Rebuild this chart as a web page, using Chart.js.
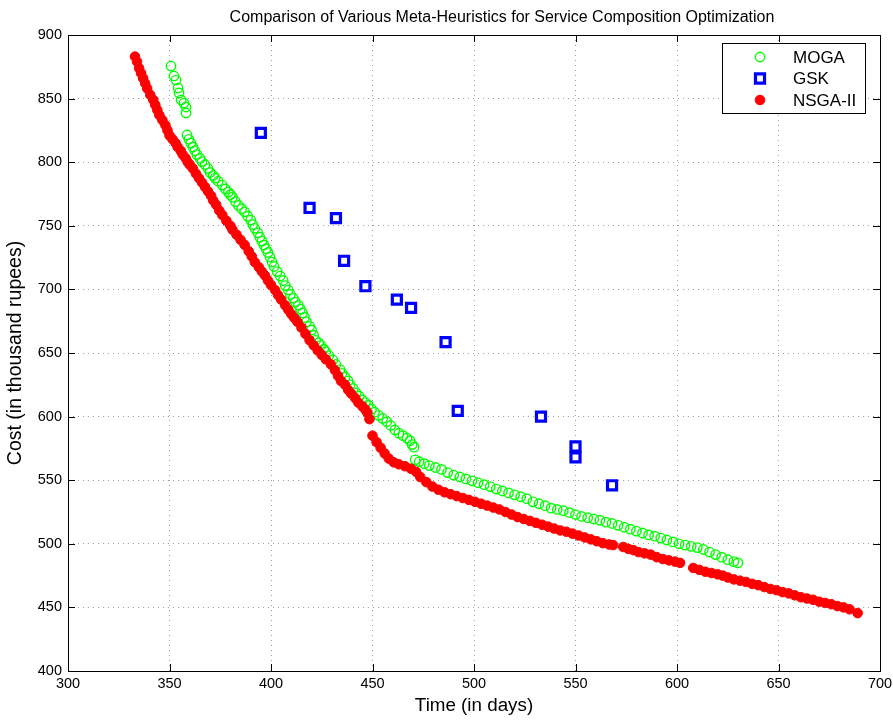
<!DOCTYPE html>
<html>
<head>
<meta charset="utf-8">
<script src="https://cdn.jsdelivr.net/npm/chart.js@4/dist/chart.umd.min.js"></script>
<style>
  html, body { margin: 0; padding: 0; background: #fff; }
  canvas { display: block; }
</style>
</head>
<body>
<canvas id="c" width="893" height="720"></canvas>
<script>
// ---------- data ----------
const chartTitle = 'Comparison of Various Meta-Heuristics for Service Composition Optimization';
const xTitle = 'Time (in days)';
const yTitle = 'Cost (in thousand rupees)';
const seriesNames = ['MOGA', 'GSK', 'NSGA-II'];

const xMin = 300, xMax = 700, xStep = 50;
const yMin = 400, yMax = 900, yStep = 50;

const mogaTime = [350.7,352.2,353.2,354.2,354.7,355.7,357.1,358.1,358.1,358.6,359.5,360.5,361.5,362.5,363.5,365,366,367.5,369,370,
  371.5,372.5,374,376,377.5,379,380,381,382.5,384,385.5,387,388.5,390,391,392,393.5,394.5,395.5,396.5,
  397.5,398.5,399.5,400.5,401.5,403,404.5,406,407,408.5,409.5,411,412,413.5,414.5,415.5,416.5,417.5,419,420,
  421,422,423.5,424.5,426,427,428.5,430.5,432,434,435,436.5,438,439,440.5,442,443.5,445,446.5,448,
  449.5,451,453,455,457,459,461,463,465,467,468.5,469.5,470.5,471,473,475.5,478,481,484,487,
  490,493,496,499,502,505,508,511,514,517,520,523,526,529,532,535,538,541,544,547,
  550,553,556,559,562,565,568,571,574,577,580,583,586,589,592,595,598,601,604,607,
  610,613,616,619,622,625,628,630];
const mogaCost = [875.6,867.8,864.6,858.3,854.4,848.9,846.5,843.4,838.7,821.4,818,815,812,809,806,803,800.5,798,795,792,
  789.5,787.5,785,782,779,776.5,774.5,772.5,769,766,763.5,761,757.5,754.5,751,748,744.5,741,738,735,
  732,729,725.5,721.5,718,714,710.5,707,703,699.5,696,693,690,687.5,684.5,681.5,678,674.5,671,668,
  664,660,658,656,653,651,648,644.5,641,637,634,631,628,625,622,618.5,616,613,611,609,
  606,603.5,601,598.5,596,593,589.5,587,585,583,581,578,576,566,564.5,563,561.5,560,558.5,556,
  554,552.5,551,549.5,548,546.5,545,543,541.5,540,538.5,537,535.5,533,531.5,530,528,527,526,524.5,
  523,521.5,520.5,519.5,518.5,517,516,514.5,513,511.5,510,508.5,507,506,504.5,503,501.5,500,499,498,
  497,495.5,493.5,491.5,489.5,487.5,486,485];

const gskTime = [395,419,432,436,446.5,462,469,486,492,533,550,550,568];
const gskCost = [823,764,756,722.5,702.5,692,685.5,658.5,604.5,600,576.5,568,546];

const nsgaTime = [333,334,335,336,337,338,339,340.5,342,343,344,345,346.5,348,349,350,351.5,353,354,355.5,
  356.5,358,359,360,361.5,363,364.5,366,367.5,369,370.5,371.5,373,374.5,376,378,380,381,383,385,
  387,389,390.5,392,394,395.5,397,398.5,400,402,403.5,405,407,408.5,410,411.5,413,415,417,419,
  421,423,425,427,429.5,431.5,433,434.5,436.5,438,439.5,441.5,443,445,446.5,447.5,448.5,450,452,454,
  456,458,460.5,463,466,469,471.5,473.5,476.5,479.5,482.5,485.5,488.5,491.5,494.5,497.5,500.5,503.5,506.5,509.5,
  512.5,515.5,518.5,521.5,524.5,527.5,530.5,533.5,536.5,539.5,542.5,545.5,548.5,551.5,554.5,557.5,560.5,563.5,566.5,568.5,
  573.5,576,578.5,581,584,587,590,593,596,599,601.5,608,611,614,617,620,622.5,625,628,631,
  634,637,640,643,646,649,652,655,658,661,664,667,670,673,676,679,682,685,689];
const nsgaCost = [883,879,874,870,866,862,858,853,849,845,841,837,833,829,825,821,818,815,812,809,
  806,803,800,798,795,791,787.5,784,780.5,777,773.5,770,766.5,762,758.5,754,750,747,743,739,
  735,730,726,721.5,717.5,714,711,707,703.5,699.5,695.5,692,687.5,684,680.5,677.5,674.5,670,665,660,
  656,652,648.5,645,641,636.5,632,628,625,621,618,614.5,611,608,605.5,603,598,585,580,575.5,
  571,567,564,562.5,561,559,556.5,552.5,548.5,545,542.5,540.5,539,537.5,536,534.5,533,531.5,530,528.5,
  527,525,523,521,519.5,518,516.5,515,513.5,512,510.5,509.5,508,506.5,505,503.5,502,500.5,499.5,499,
  497.5,496,495,493.5,492.5,491.5,489.5,488,487,486,485,481,479.5,478,477,476,475,473.5,472,471,
  470,468.5,467.5,466,464.5,463.5,462,461,459.5,458,457,456,454.5,453.5,452.5,451,450,448.5,445.5];

// ---------- build chart ----------
const toPoints = (xs, ys) => xs.map((v, i) => ({ x: v, y: ys[i] }));
const FONT = '"Liberation Sans", Arial, Helvetica, sans-serif';

const styles = [
  { pointStyle: 'circle', pointRadius: 4.7, borderWidth: 1.4, borderColor: '#00ff00', backgroundColor: 'rgba(0,0,0,0)' },
  { pointStyle: 'rect',   pointRadius: 6.4, borderWidth: 3.2, borderColor: '#0000ff', backgroundColor: '#ffffff' },
  { pointStyle: 'circle', pointRadius: 4.8, borderWidth: 1,   borderColor: '#ff0000', backgroundColor: '#ff0000' }
];

const datasets = [
  Object.assign({ label: seriesNames[0], data: toPoints(mogaTime, mogaCost), order: 3 }, styles[0]),
  Object.assign({ label: seriesNames[1], data: toPoints(gskTime, gskCost), order: 1 }, styles[1]),
  Object.assign({ label: seriesNames[2], data: toPoints(nsgaTime, nsgaCost), order: 2 }, styles[2])
];
datasets.forEach(d => { d.pointHoverRadius = d.pointRadius; d.showLine = false; });

const boxPlugin = {
  id: 'matlabBox',
  afterLayout(chart) {
    // MATLAB centres this title a little right of the plot centre
    const tb = chart.titleBlock;
    if (tb) {
      const shift = (chart.chartArea.left + chart.chartArea.right) / 2 + 28 - (tb.left + tb.right) / 2;
      tb.left += shift; tb.right += shift;
    }
  },
  afterDatasetsDraw(chart) {
    const { ctx, chartArea: a, scales: { x, y } } = chart;
    ctx.save();
    ctx.strokeStyle = '#000';
    ctx.lineWidth = 1;
    ctx.beginPath();
    const tl = 7;
    x.ticks.forEach(t => {
      const px = Math.round(x.getPixelForValue(t.value)) + 0.5;
      ctx.moveTo(px, a.bottom); ctx.lineTo(px, a.bottom - tl);
      ctx.moveTo(px, a.top); ctx.lineTo(px, a.top + tl);
    });
    y.ticks.forEach(t => {
      const py = Math.round(y.getPixelForValue(t.value)) + 0.5;
      ctx.moveTo(a.left, py); ctx.lineTo(a.left + tl, py);
      ctx.moveTo(a.right, py); ctx.lineTo(a.right - tl, py);
    });
    ctx.stroke();
    ctx.strokeRect(Math.round(a.left) + 0.5, Math.round(a.top) + 0.5,
                   Math.round(a.right - a.left), Math.round(a.bottom - a.top));
    ctx.restore();
  },
  afterDraw(chart) {
    const { ctx, chartArea: a } = chart;
    const w = 143, h = 70;
    const lx = Math.round(a.right) - 15 - w, ly = Math.round(a.top) + 8;
    ctx.save();
    ctx.fillStyle = '#fff';
    ctx.fillRect(lx, ly, w, h);
    ctx.strokeStyle = '#000';
    ctx.lineWidth = 1;
    ctx.strokeRect(lx + 0.5, ly + 0.5, w, h);
    ctx.font = '17px ' + FONT;
    ctx.textBaseline = 'middle';
    ctx.textAlign = 'left';
    chart.data.datasets.forEach((d, i) => {
      const cy = ly + 14 + i * 21.5;
      const cx = lx + 38;
      ctx.lineWidth = d.borderWidth;
      ctx.strokeStyle = d.borderColor;
      ctx.fillStyle = d.backgroundColor;
      ctx.beginPath();
      if (d.pointStyle === 'rect') {
        const s = d.pointRadius * Math.SQRT1_2;
        ctx.rect(cx - s, cy - s, 2 * s, 2 * s);
      } else {
        ctx.arc(cx, cy, d.pointRadius, 0, Math.PI * 2);
      }
      ctx.fill();
      ctx.stroke();
      ctx.fillStyle = '#000';
      ctx.fillText(d.label, lx + 71, cy + 1);
    });
    ctx.restore();
  }
};

new Chart(document.getElementById('c'), {
  type: 'scatter',
  data: { datasets },
  plugins: [boxPlugin],
  options: {
    responsive: false,
    devicePixelRatio: 1,
    animation: false,
    events: [],
    layout: { padding: { left: 0, right: 13, top: 0, bottom: 0 } },
    plugins: {
      legend: { display: false },
      tooltip: { enabled: false },
      title: {
        display: true,
        text: chartTitle,
        color: '#000',
        font: { family: FONT, size: 16, weight: 'normal', lineHeight: 1.2 },
        padding: { top: 8, bottom: 7.8 }
      }
    },
    scales: {
      x: {
        type: 'linear',
        min: xMin, max: xMax,
        ticks: { stepSize: xStep, color: '#000', padding: 4, maxRotation: 0,
                 font: { family: FONT, size: 14.5 } },
        grid: { color: 'rgba(0,0,0,0.38)', lineWidth: 1, drawTicks: false },
        border: { display: false, dash: [1, 4] },
        title: { display: true, text: xTitle, color: '#000',
                 font: { family: FONT, size: 18.8 }, padding: { top: 0, bottom: 2.7 } },
        afterFit(scale) { scale.height = 49; scale.paddingLeft = 0; scale.paddingRight = 0; }
      },
      y: {
        type: 'linear',
        min: yMin, max: yMax,
        ticks: { stepSize: yStep, color: '#000', padding: 6,
                 font: { family: FONT, size: 14.5 } },
        grid: { color: 'rgba(0,0,0,0.38)', lineWidth: 1, drawTicks: false },
        border: { display: false, dash: [1, 4] },
        title: { display: true, text: yTitle, color: '#000',
                 font: { family: FONT, size: 19.5 }, padding: { top: 4.3, bottom: 0 } },
        afterFit(scale) { scale.width = 68; }
      }
    }
  }
});
</script>
</body>
</html>
